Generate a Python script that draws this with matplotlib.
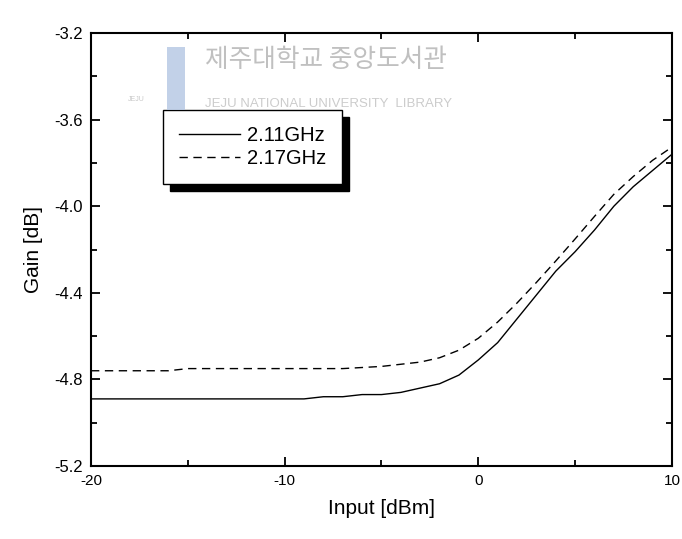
import matplotlib
matplotlib.use('Agg')
import matplotlib.pyplot as plt
import numpy as np
from matplotlib.patches import Rectangle
from matplotlib.ticker import MultipleLocator, FormatStrFormatter

# input power sweep [dBm]
input_dbm = np.arange(-20, 11)

gain_211 = [-4.89, -4.89, -4.89, -4.89, -4.89, -4.89, -4.89, -4.89, -4.89, -4.89,
            -4.89, -4.89, -4.88, -4.88, -4.87, -4.87, -4.86, -4.84, -4.82, -4.78,
            -4.71, -4.63, -4.52, -4.41, -4.30, -4.21, -4.11, -4.00, -3.91, -3.835,
            -3.76]
gain_217 = [-4.76, -4.76, -4.76, -4.76, -4.76, -4.75, -4.75, -4.75, -4.75, -4.75,
            -4.75, -4.75, -4.75, -4.75, -4.745, -4.74, -4.73, -4.72, -4.70, -4.665,
            -4.61, -4.535, -4.447, -4.352, -4.253, -4.151, -4.047, -3.945, -3.863, -3.788,
            -3.727]

series_labels = ['2.11GHz', '2.17GHz']

plt.rcParams['font.family'] = ['Liberation Sans', 'DejaVu Sans']
plt.rcParams['axes.unicode_minus'] = False

fig = plt.figure(figsize=(6.82, 5.39), dpi=100)
ax = fig.add_axes([0.1334, 0.1354, 0.8519, 0.8034])

# watermark (library stamp)
fig.patches.append(Rectangle((167 / 682, 1 - 110 / 539), 18 / 682, 63 / 539,
                             transform=fig.transFigure, facecolor='#b3c6e3',
                             edgecolor='none', alpha=0.8, zorder=0))
fig.text(0.300, 0.889, '제주대학교 중앙도서관', family=['Noto Sans CJK KR', 'DejaVu Sans'],
         fontsize=18.5, color='#c0c0c0', va='center', ha='left', zorder=0)
fig.text(0.300, 0.807, 'JEJU NATIONAL UNIVERSITY  LIBRARY', fontsize=9.5,
         color='#cccccc', va='center', ha='left', zorder=0)
fig.text(0.200, 0.812, 'JEJU', fontsize=5, color='#c8c8c8', ha='center', zorder=0)
ax.patch.set_alpha(0)

ax.plot(input_dbm, gain_211, color='black', linewidth=1.0, label=series_labels[0])
ax.plot(input_dbm, gain_217, color='black', linewidth=1.0, dashes=(6, 4),
        label=series_labels[1])

ax.set_xlim(-20, 10)
ax.set_ylim(-5.2, -3.2)
ax.xaxis.set_major_locator(MultipleLocator(10))
ax.xaxis.set_minor_locator(MultipleLocator(5))
ax.yaxis.set_major_locator(MultipleLocator(0.4))
ax.yaxis.set_minor_locator(MultipleLocator(0.2))
ax.yaxis.set_major_formatter(FormatStrFormatter('%.1f'))

ax.tick_params(which='both', direction='in', top=True, right=True, width=1.3,
               labelsize=11, pad=6)
ax.tick_params(axis='y', labelsize=12)
ax.tick_params(which='major', length=6.5)
ax.tick_params(which='minor', length=4)
for sp in ax.spines.values():
    sp.set_linewidth(1.5)

ax.set_xlabel('Input [dBm]', fontsize=15, labelpad=8)
ax.set_ylabel('Gain [dB]', fontsize=15, labelpad=8)

leg = ax.legend(loc='upper left', bbox_to_anchor=(0.124, 0.822), borderaxespad=0,
                fontsize=14.5, frameon=True, fancybox=False, edgecolor='black',
                framealpha=1, handlelength=3.0, handletextpad=0.35,
                borderpad=0.8, labelspacing=0.2,
                shadow={'ox': 5, 'oy': -5, 'color': 'black', 'alpha': 1})
leg.get_frame().set_linewidth(1.0)

fig.savefig('out.png', dpi=100)
